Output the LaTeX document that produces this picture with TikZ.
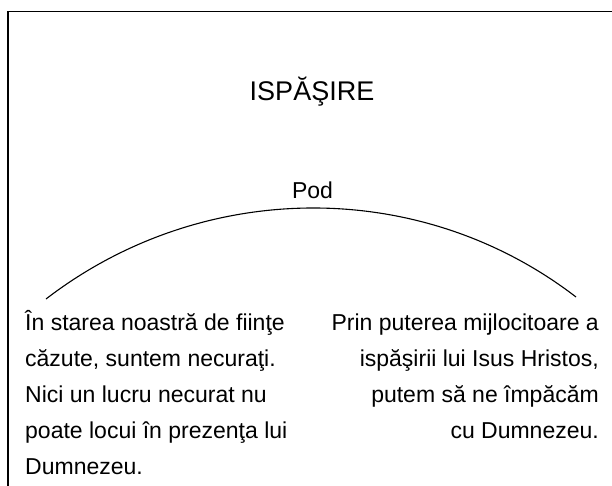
\documentclass[tikz,border=0pt]{standalone}
\usepackage{fontspec}
\setmainfont{Liberation Sans}
\begin{document}
\begin{tikzpicture}[x=1pt,y=-1pt,
  frameline/.style={line width=1.5pt,line cap=rect},
  bridge/.style={line width=1.1pt},
  bodytext/.style={inner sep=0pt,font=\fontsize{23}{36}\selectfont},
  titletext/.style={inner sep=0pt,font=\fontsize{27}{32}\selectfont}]
\useasboundingbox (0,0) rectangle (612,486);
\coordinate (fb) at (8,490);
\coordinate (fc) at (8,11.5);
\coordinate (fr) at (616,11.5);
\draw[frameline] (fb) -- (fc) -- (fr);
\node[titletext,anchor=base] (title) at (312,100.5) {ISPĂŞIRE};
\node[bodytext,anchor=base] (pod) at (312.5,199) {Pod};
\coordinate (L) at (46,299);
\coordinate (R) at (576,297);
\draw[bridge] (L) .. controls (202,179) and (420,177) .. (R);
\node[bodytext,anchor=base west,align=left] (left) at (25,474)
 {În starea noastră de fiinţe\\căzute, suntem necuraţi.\\Nici un lucru necurat nu\\poate locui în prezenţa lui\\Dumnezeu.};
\node[bodytext,anchor=base east,align=right] (right) at (599,438)
 {Prin puterea mijlocitoare a\\ispăşirii lui Isus Hristos,\\putem să ne împăcăm\\cu Dumnezeu.};
\end{tikzpicture}
\end{document}
